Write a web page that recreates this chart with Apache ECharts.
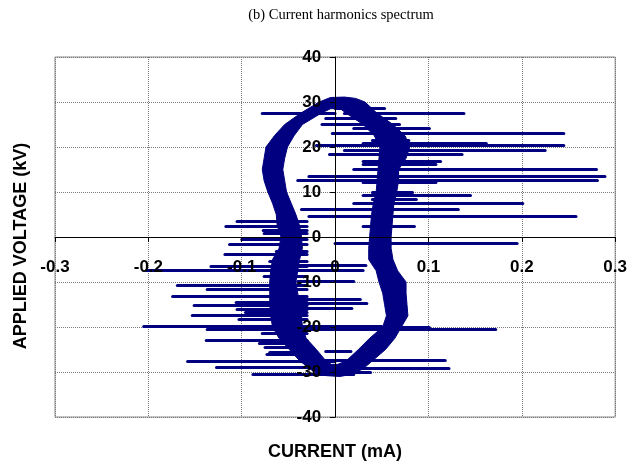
<!DOCTYPE html>
<html>
<head>
<meta charset="utf-8">
<script src="https://cdn.jsdelivr.net/npm/echarts@6/dist/echarts.min.js"></script>
<style>
html,body{margin:0;padding:0;background:#fff;}
#chart{width:630px;height:463px;}
</style>
</head>
<body>
<div id="chart"></div>
<script>
// Outer edge of the current/voltage loop band (clockwise from top-left)
const outerI = [-0.017,-0.005,0.010,0.022,0.032,
  0.045,0.062,0.075,0.080,0.076,0.068,0.068,0.066,0.063,0.062,0.061,0.060,0.060,0.062,0.067,0.076,0.076,0.077,0.078,0.071,0.064,0.054,0.040,
  0.030,0.018,0.005,-0.010,-0.025,
  -0.038,-0.049,-0.060,-0.067,-0.069,-0.070,-0.070,-0.070,-0.069,-0.067,-0.060,-0.058,-0.062,-0.063,-0.067,-0.072,-0.076,-0.078,-0.076,-0.074,-0.065,-0.054,-0.037];
const outerV = [30,31.0,31.1,30.8,30.0,
  27.5,25,22.5,20,17.5,15,12.5,10,7.5,5,2.5,0,-2.5,-5,-7.5,-10,-12.5,-15,-17.5,-20,-22.5,-25,-27.5,
  -29.3,-30.5,-31.0,-30.8,-29.6,
  -27.5,-25,-22.5,-20,-17.5,-15,-12.5,-10,-7.5,-5,-2.5,0,2.5,5,7.5,10,12.5,15,17.5,20,22.5,25,27.5];
// Inner edge (hole) of the loop band (clockwise from top-left)
const innerI = [-0.015,-0.005,0.005,0.012,
  0.030,0.042,0.048,0.047,0.046,0.045,0.044,0.041,0.039,0.038,0.037,0.036,0.036,0.044,0.047,0.051,0.053,0.055,0.051,0.037,0.025,0.012,
  0.003,-0.004,
  -0.010,-0.020,-0.031,-0.035,-0.036,-0.038,-0.040,-0.042,-0.040,-0.038,-0.035,-0.036,-0.038,-0.042,-0.047,-0.052,-0.054,-0.056,-0.054,-0.051,-0.044,-0.035];
const innerV = [27.5,28.5,28.6,27.5,
  25,22.5,20,17.5,15,12.5,10,7.5,5,2.5,0,-2.5,-5,-7.5,-10,-12.5,-15,-17.5,-20,-22.5,-25,-27.5,
  -28.3,-28.3,
  -27.5,-25,-22.5,-20,-17.5,-15,-12.5,-10,-7.5,-5,-2.5,0,2.5,5,7.5,10,12.5,15,17.5,20,22.5,25];

// Discharge spikes: voltage level, start current, tip current (mA)
const spikeV = [28.7,27.6,26.4,25.0,24.1,23.0,21.6,20.9,20.4,19.3,18.3,16.8,16.1,15.0,13.6,12.7,12.2,9.9,9.2,8.4,7.6,6.2,4.6,2.5,-1.3,-6.3,-9.9,-13.9,-14.7,-15.9,-20.1,-20.6,-25.4,-27.3,-29.1,-30.0,
  27.4,3.5,2.4,1.4,0.9,-0.5,-1.5,-3.2,-3.8,-5.4,-6.4,-7.4,-8.7,-10.8,-11.6,-13.1,-14.5,-15.2,-16.0,-16.7,-17.4,-18.2,-19.9,-20.5,-21.3,-22.9,-23.5,-24.5,-25.6,-26.0,-27.6,-28.9,-30.4];
const spikeFrom = [0.000,0.010,-0.010,-0.014,0.020,-0.003,0.040,0.030,-0.020,0.010,-0.006,0.030,0.030,0.020,-0.028,-0.040,0.030,0.040,0.030,0.040,0.020,-0.036,-0.028,0.030,0.000,-0.040,-0.040,-0.040,-0.040,-0.040,-0.035,-0.035,-0.010,-0.020,-0.020,-0.020,
  0.000,-0.030,-0.030,-0.030,-0.030,-0.030,-0.030,-0.030,-0.030,-0.030,-0.030,0.030,-0.030,-0.030,-0.030,-0.030,-0.030,-0.030,-0.030,-0.030,-0.030,-0.030,0.050,-0.030,-0.030,-0.030,-0.030,-0.030,-0.030,-0.030,0.000,0.010,0.020];
const spikeTip = [0.053,0.138,0.065,0.069,0.101,0.245,0.079,0.162,0.245,0.225,0.136,0.113,0.108,0.280,0.289,0.281,0.108,0.083,0.145,0.087,0.201,0.132,0.258,0.085,0.195,0.033,0.020,0.027,0.034,0.018,0.101,0.172,0.017,0.118,0.122,0.038,
  -0.078,-0.105,-0.117,-0.077,-0.076,-0.100,-0.113,-0.063,-0.118,-0.070,-0.133,-0.202,-0.076,-0.169,-0.137,-0.174,-0.106,-0.151,-0.105,-0.096,-0.153,-0.103,-0.205,-0.137,-0.078,-0.138,-0.081,-0.075,-0.070,-0.073,-0.158,-0.127,-0.088];

const X_MIN = -0.3, X_MAX = 0.3, X_STEP = 0.1;
const Y_MIN = -40, Y_MAX = 40, Y_STEP = 10;

const NAVY = '#000080';
const outer = outerI.map((x,i)=>[x, outerV[i]]);
const inner = innerI.map((x,i)=>[x, innerV[i]]);
const ring = outer.concat([outer[0], inner[0]], inner.slice(1).reverse(), [inner[0], outer[0]]);
const spikes = spikeV.map((v,i)=>({coords:[[spikeFrom[i], v],[spikeTip[i], v]]}));

const chart = echarts.init(document.getElementById('chart'), null, {renderer:'canvas'});
const FONT = 'Liberation Sans, Arial, sans-serif';
const labelFont = {fontFamily:FONT, fontWeight:'bold', fontSize:17, color:'#000'};
const gridLine = {show:true, lineStyle:{color:'#7a7a7a', type:'dotted', width:1}};
chart.setOption({
  animation:false,
  backgroundColor:'#fff',
  title:{text:'(b) Current harmonics spectrum', left:336, top:3, textAlign:'center',
    textStyle:{fontFamily:'Liberation Serif, Times New Roman, serif', fontWeight:'normal', fontSize:14.5, color:'#000'}},
  grid:{left:55, right:14, top:57, bottom:46, show:true, borderColor:'#8a8a8a', borderWidth:1, containLabel:false},
  xAxis:[
    {type:'value', min:X_MIN, max:X_MAX, interval:X_STEP, position:'bottom', offset:0, z:10,
      axisLine:{onZero:false, lineStyle:{color:'#000', width:1}},
      axisTick:{show:true, length:5, lineStyle:{color:'#000'}},
      axisLabel:Object.assign({margin:22, formatter:v=>String(Math.round(v*10)/10)}, labelFont),
      splitLine:{show:false}},
    {type:'value', min:X_MIN, max:X_MAX, interval:X_STEP, position:'top', z:0,
      axisLine:{show:false}, axisTick:{show:false}, axisLabel:{show:false}, splitLine:gridLine}
  ],
  yAxis:[
    {type:'value', min:Y_MIN, max:Y_MAX, interval:Y_STEP, position:'left', offset:0, z:10,
      axisLine:{onZero:false, lineStyle:{color:'#000', width:1}},
      axisTick:{show:true, length:5, lineStyle:{color:'#000'}},
      axisLabel:Object.assign({margin:14}, labelFont),
      splitLine:{show:false}},
    {type:'value', min:Y_MIN, max:Y_MAX, interval:Y_STEP, position:'right', z:0,
      axisLine:{show:false}, axisTick:{show:false}, axisLabel:{show:false}, splitLine:gridLine}
  ],
  graphic:[
    {type:'text', x:21, y:246, rotation:Math.PI/2,
      style:{text:'APPLIED VOLTAGE (kV)', font:'bold 18px "Liberation Sans", Arial, sans-serif', fill:'#000', align:'center', verticalAlign:'middle'}},
    {type:'text', x:335, y:452,
      style:{text:'CURRENT (mA)', font:'bold 18px "Liberation Sans", Arial, sans-serif', fill:'#000', align:'center', verticalAlign:'middle'}}
  ],
  series:[
    {type:'custom', xAxisIndex:0, yAxisIndex:0, z:3, data:[[0,0]], silent:true,
      renderItem:function(params, api){
        const pts = ring.map(p=>api.coord(p));
        return {type:'polygon', shape:{points:pts}, style:{fill:NAVY, stroke:NAVY, lineWidth:1}};
      }},
    {type:'lines', coordinateSystem:'cartesian2d', xAxisIndex:0, yAxisIndex:0, z:4, silent:true,
      lineStyle:{color:NAVY, width:3, opacity:1, curveness:0, cap:'round'},
      data:spikes}
  ]
});
// Move the labelled axes so that they cross at zero (position from the library's own scales)
const xZero = chart.convertToPixel({xAxisIndex:0}, 0);
const xLeft = chart.convertToPixel({xAxisIndex:0}, X_MIN);
const yZero = chart.convertToPixel({yAxisIndex:0}, 0);
const yBottom = chart.convertToPixel({yAxisIndex:0}, Y_MIN);
chart.setOption({
  xAxis:[{offset: -(yBottom - yZero)}, {}],
  yAxis:[{offset: -(xZero - xLeft)}, {}]
});
</script>
</body>
</html>
